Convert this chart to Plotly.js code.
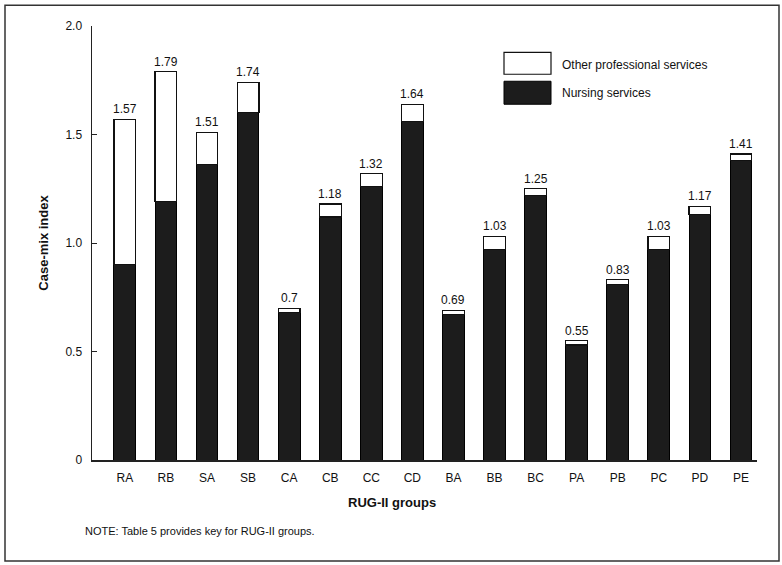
<!DOCTYPE html>
<html>
<head>
<meta charset="utf-8">
<script src="https://cdn.plot.ly/plotly-3.0.1.min.js"></script>
<style>html,body{margin:0;padding:0;background:#fff;}#chart{width:782px;height:565px;}</style>
</head>
<body>
<div id="chart"></div>
<script>
var categories = ["RA","RB","SA","SB","CA","CB","CC","CD","BA","BB","BC","PA","PB","PC","PD","PE"];
var totalIndex = [1.57,1.79,1.51,1.74,0.70,1.18,1.32,1.64,0.69,1.03,1.25,0.55,0.83,1.03,1.17,1.41];
var nursing    = [0.90,1.19,1.36,1.60,0.68,1.12,1.26,1.56,0.67,0.97,1.22,0.53,0.81,0.97,1.13,1.38];
var totalLabels = ["1.57","1.79","1.51","1.74","0.7","1.18","1.32","1.64","0.69","1.03","1.25","0.55","0.83","1.03","1.17","1.41"];
var yTickVals = [0, 0.5, 1.0, 1.5, 2.0];
var yTickText = ["0","0.5","1.0","1.5","2.0"];

var other = totalIndex.map(function(t, i){ return +(t - nursing[i]).toFixed(3); });
var FONT = "Liberation Sans, Arial, Helvetica, sans-serif";

var traces = [
  {type:"bar", name:"Nursing services", x:categories, y:nursing,
   marker:{color:"#1c1c1c", line:{color:"#000", width:1}}, hoverinfo:"y"},
  {type:"bar", name:"Other professional services", x:categories, y:other,
   marker:{color:"#ffffff", line:{color:"#111", width:1.2}}, hoverinfo:"y"}
];

var annotations = categories.map(function(c, i){
  return {x:c, y:totalIndex[i], xref:"x", yref:"y", text:totalLabels[i], showarrow:false,
          yanchor:"bottom", yshift:1, font:{family:FONT, size:12, color:"#111"}};
});
annotations.push({xref:"paper", yref:"paper", x:(392-92)/665, y:(460-503)/434.3, text:"<b>RUG-II groups</b>",
  showarrow:false, xanchor:"center", yanchor:"middle", font:{family:FONT, size:13, color:"#111"}});
annotations.push({xref:"paper", yref:"paper", x:(83-92)/665, y:(460-531)/434.3, text:"NOTE: Table 5 provides key for RUG-II groups.",
  showarrow:false, xanchor:"left", yanchor:"middle", font:{family:FONT, size:11, color:"#111"}});
annotations.push({xref:"paper", yref:"paper", x:(560-92)/665, y:(460-65)/434.3, text:"Other professional services",
  showarrow:false, xanchor:"left", yanchor:"middle", font:{family:FONT, size:12, color:"#111"}});
annotations.push({xref:"paper", yref:"paper", x:(560-92)/665, y:(460-93)/434.3, text:"Nursing services",
  showarrow:false, xanchor:"left", yanchor:"middle", font:{family:FONT, size:12, color:"#111"}});

var shapes = [
  {type:"rect", xref:"paper", yref:"paper", x0:(5-92)/665, x1:(779-92)/665, y0:(460-561)/434.3, y1:(460-5)/434.3,
   line:{color:"#333", width:1.5}, fillcolor:"rgba(0,0,0,0)"},
  {type:"rect", xref:"paper", yref:"paper", x0:(504-92)/665, x1:(551-92)/665, y0:(460-74)/434.3, y1:(460-52)/434.3,
   line:{color:"#111", width:1.2}, fillcolor:"#fff"},
  {type:"rect", xref:"paper", yref:"paper", x0:(504-92)/665, x1:(551-92)/665, y0:(460-104)/434.3, y1:(460-81)/434.3,
   line:{color:"#000", width:1}, fillcolor:"#1c1c1c"}
];

var layout = {
  width:782, height:565,
  margin:{l:92, r:25, t:26, b:105},
  paper_bgcolor:"#fff", plot_bgcolor:"#fff",
  barmode:"stack", bargap:0.47,
  showlegend:false,
  font:{family:FONT, size:12, color:"#111"},
  xaxis:{type:"category", range:[-0.8, 15.39], showline:true, linecolor:"#222", linewidth:1.5,
         ticks:"", showgrid:false, zeroline:false, tickfont:{family:FONT, size:12, color:"#111"},
         ticklabelstandoff:6, fixedrange:true},
  yaxis:{range:[0, 2.0], tickvals:yTickVals, ticktext:yTickText, showline:true, linecolor:"#222", linewidth:1.5,
         ticks:"inside", ticklen:5, tickwidth:1, tickcolor:"#222", showgrid:false, zeroline:false,
         tickfont:{family:FONT, size:12, color:"#111"}, ticklabelstandoff:6,
         title:{text:"<b>Case-mix index</b>", font:{family:FONT, size:13, color:"#111"}, standoff:14}, fixedrange:true},
  annotations:annotations,
  shapes:shapes
};

Plotly.newPlot("chart", traces, layout, {displayModeBar:false, staticPlot:true});
</script>
</body>
</html>
